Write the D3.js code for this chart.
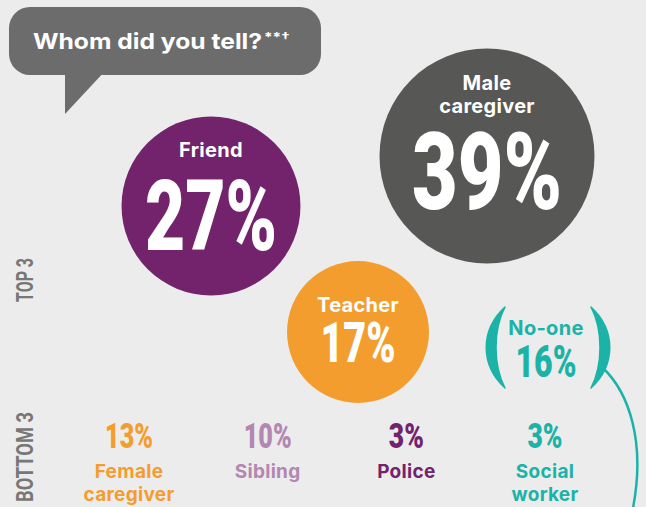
<!DOCTYPE html>
<html><head><meta charset="utf-8">
<script src="https://cdn.jsdelivr.net/npm/d3@7"></script>
<style>html,body{margin:0;padding:0;background:#ececec;} svg{display:block;}</style>
</head><body>
<script>
// ---------- data ----------
const titleText = "Whom did you tell?";
const titleNote = "**†";
const topLabels = ["Male caregiver", "Friend", "Teacher"];
const topValues = [39, 27, 17];
const noOneLabels = ["No-one"];
const noOneValues = [16];
const bottomLabels = ["Female caregiver", "Sibling", "Police", "Social worker"];
const bottomValues = [13, 10, 3, 3];
const sideLabels = ["TOP 3", "BOTTOM 3"];

// ---------- styles / layout ----------
const W = 646, H = 507;
const BG = "#ececec";
const topColors = ["#575756", "#72236c", "#f49d2f"];
const bottomColors = ["#f49d2f", "#b387b1", "#72236c", "#1bb3a7"];
const teal = "#1bb3a7";
const labelFont = "Inter, 'Open Sans', sans-serif";
const numFont = "Roboto, 'Liberation Sans', sans-serif";
const CAP = 0.711;
const topLayout = [
  {cx: 487, cy: 156, lab: -66, lineH: 23, num: 53, cap: 77, w: 150},
  {cx: 211, cy: 206, lab: -49, lineH: 23, num: 44, cap: 70, w: 132},
  {cx: 358, cy: 332, lab: -20, lineH: 23, num: 30, cap: 40, w: 75}
];

const svg = d3.select("body").append("svg").attr("width", W).attr("height", H);
svg.append("rect").attr("width", W).attr("height", H).attr("fill", BG);

// speech bubble
const bub = svg.append("g");
bub.append("rect").attr("x", 9).attr("y", 7).attr("width", 312).attr("height", 68).attr("rx", 21).attr("fill", "#6c6c6c");
bub.append("path").attr("d", "M65,70 L65,114 L106,70 Z").attr("fill", "#6c6c6c");
bub.append("text").attr("x", 33).attr("y", 49)
  .attr("font-family", labelFont).attr("font-weight", 700).attr("font-size", 22)
  .attr("textLength", 229).attr("lengthAdjust", "spacingAndGlyphs")
  .attr("fill", "#fff").text(titleText);
bub.append("text").attr("x", 264).attr("y", 42)
  .attr("font-family", labelFont).attr("font-weight", 700).attr("font-size", 13)
  .attr("textLength", 26).attr("lengthAdjust", "spacingAndGlyphs")
  .attr("fill", "#fff").text(titleNote);

// radius scale
const r = d3.scaleSqrt().domain([0, d3.max(topValues)]).range([0, 107.5]);

// top circles
topLabels.forEach((lab, i) => {
  const L = topLayout[i];
  const g = svg.append("g");
  g.append("circle").attr("cx", L.cx).attr("cy", L.cy).attr("r", r(topValues[i])).attr("fill", topColors[i]);
  lab.split(" ").forEach((w, j) => {
    g.append("text").attr("x", L.cx).attr("y", L.cy + L.lab + j * L.lineH)
      .attr("text-anchor", "middle").attr("font-family", labelFont).attr("font-weight", 700)
      .attr("font-size", 20).attr("letter-spacing", 0.3).attr("fill", "#fff").text(w);
  });
  g.append("text").attr("x", L.cx).attr("y", L.cy + L.num)
    .attr("text-anchor", "middle").attr("font-family", numFont).attr("font-weight", 900)
    .attr("font-size", L.cap / CAP).attr("fill", "#fff")
    .attr("textLength", L.w).attr("lengthAdjust", "spacingAndGlyphs")
    .text(topValues[i] + "%");
});

// no-one with parentheses
const no = svg.append("g");
const noX = 546;
no.append("text").attr("x", noX).attr("y", 335).attr("text-anchor", "middle")
  .attr("font-family", labelFont).attr("font-weight", 700).attr("font-size", 20)
  .attr("letter-spacing", 0.3).attr("fill", teal).text(noOneLabels[0]);
no.append("text").attr("x", noX).attr("y", 377).attr("text-anchor", "middle")
  .attr("font-family", numFont).attr("font-weight", 900).attr("font-size", 32 / CAP)
  .attr("textLength", 61).attr("lengthAdjust", "spacingAndGlyphs")
  .attr("fill", teal).text(noOneValues[0] + "%");
no.append("path").attr("d", "M505,307 C480,330 480,365 505,388 C493,365 493,330 505,307 Z")
  .attr("fill", teal).attr("stroke", teal).attr("stroke-width", 1.5).attr("stroke-linejoin", "round");
no.append("path").attr("d", "M591,307 C616,330 616,365 591,388 C603,365 603,330 591,307 Z")
  .attr("fill", teal).attr("stroke", teal).attr("stroke-width", 1.5).attr("stroke-linejoin", "round");
no.append("path").attr("d", "M603,368 C628,392 646,440 633,508").attr("fill", "none")
  .attr("stroke", teal).attr("stroke-width", 2.5);

// bottom row
const bx = d3.scalePoint().domain(bottomLabels).range([129, 545]);
bottomLabels.forEach((lab, i) => {
  const x = bx(lab);
  svg.append("text").attr("x", x).attr("y", 448).attr("text-anchor", "middle")
    .attr("font-family", numFont).attr("font-weight", 900).attr("font-size", 25 / CAP)
    .attr("textLength", String(bottomValues[i]).length > 1 ? 48 : 35).attr("lengthAdjust", "spacingAndGlyphs")
    .attr("fill", bottomColors[i]).text(bottomValues[i] + "%");
  lab.split(" ").forEach((w, j) => {
    svg.append("text").attr("x", x).attr("y", 478 + j * 23).attr("text-anchor", "middle")
      .attr("font-family", labelFont).attr("font-weight", 700).attr("font-size", 19)
      .attr("letter-spacing", 0.3).attr("fill", bottomColors[i]).text(w);
  });
});

// side labels
const sideY = [280, 457], sideLen = [44, 90];
sideLabels.forEach((s, i) => {
  svg.append("text").attr("transform", `translate(33,${sideY[i]}) rotate(-90)`)
    .attr("text-anchor", "middle").attr("font-family", numFont).attr("font-weight", 700)
    .attr("font-size", 17 / CAP).attr("fill", "#777")
    .attr("textLength", sideLen[i]).attr("lengthAdjust", "spacingAndGlyphs").text(s);
});
</script>
</body></html>
